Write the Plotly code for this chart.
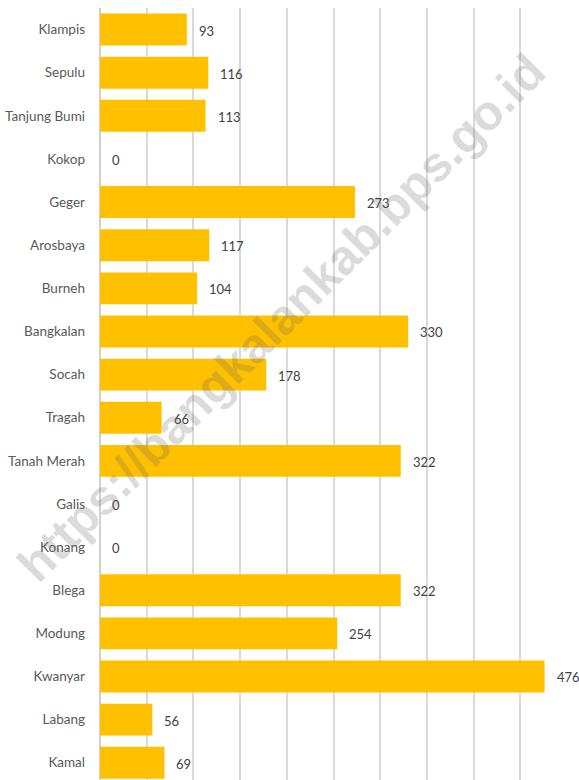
import plotly.graph_objects as go

# Kecamatan di Kabupaten Bangkalan, urutan dari atas ke bawah
kecamatan = [
    "Klampis", "Sepulu", "Tanjung Bumi", "Kokop", "Geger", "Arosbaya",
    "Burneh", "Bangkalan", "Socah", "Tragah", "Tanah Merah", "Galis",
    "Konang", "Blega", "Modung", "Kwanyar", "Labang", "Kamal",
]
jumlah = [93, 116, 113, 0, 273, 117, 104, 330, 178, 66, 322, 0, 0, 322, 254, 476, 56, 69]

BAR_COLOR = "#FFC000"
LABEL_FONT = "Lato, Roboto, sans-serif"

fig = go.Figure()

fig.add_trace(go.Bar(
    x=jumlah,
    y=kecamatan,
    orientation="h",
    marker=dict(color=BAR_COLOR, line=dict(width=0)),
    hoverinfo="x+y",
))

# value labels just beyond the end of each bar
for name, val in zip(kecamatan, jumlah):
    fig.add_annotation(
        x=val, y=name, xref="x", yref="y",
        text=str(val), showarrow=False,
        xanchor="left", yanchor="middle", xshift=10, yshift=-1,
        font=dict(family=LABEL_FONT, size=13, color="#404040"),
    )

# diagonal site watermark drawn over the bars
fig.add_annotation(
    x=0.388, y=0.598, xref="paper", yref="paper",
    text="<b>https://bangkalankab.bps.go.id</b>",
    showarrow=False, textangle=-45,
    font=dict(family="Arial, Liberation Sans, sans-serif", size=49,
              color="rgba(100,100,100,0.23)"),
)

fig.update_layout(
    width=579, height=780,
    margin=dict(l=100, r=12, t=8, b=0),
    paper_bgcolor="white", plot_bgcolor="white",
    bargap=0.26,
    showlegend=False,
    xaxis=dict(
        range=[0, 500], dtick=50, tick0=0,
        showticklabels=False, ticks="",
        showgrid=True, gridcolor="#d9d9d9", gridwidth=1.5,
        zeroline=True, zerolinecolor="#d0d0d0", zerolinewidth=2,
        showline=False, fixedrange=True,
    ),
    yaxis=dict(
        type="category",
        categoryorder="array", categoryarray=kecamatan,
        range=[17.4, -0.5],
        showgrid=False, zeroline=False, showline=False,
        ticks="", ticklabelstandoff=14,
        tickfont=dict(family=LABEL_FONT, size=13.5, color="#595959"),
        fixedrange=True,
    ),
)

fig.write_html("out.html")
